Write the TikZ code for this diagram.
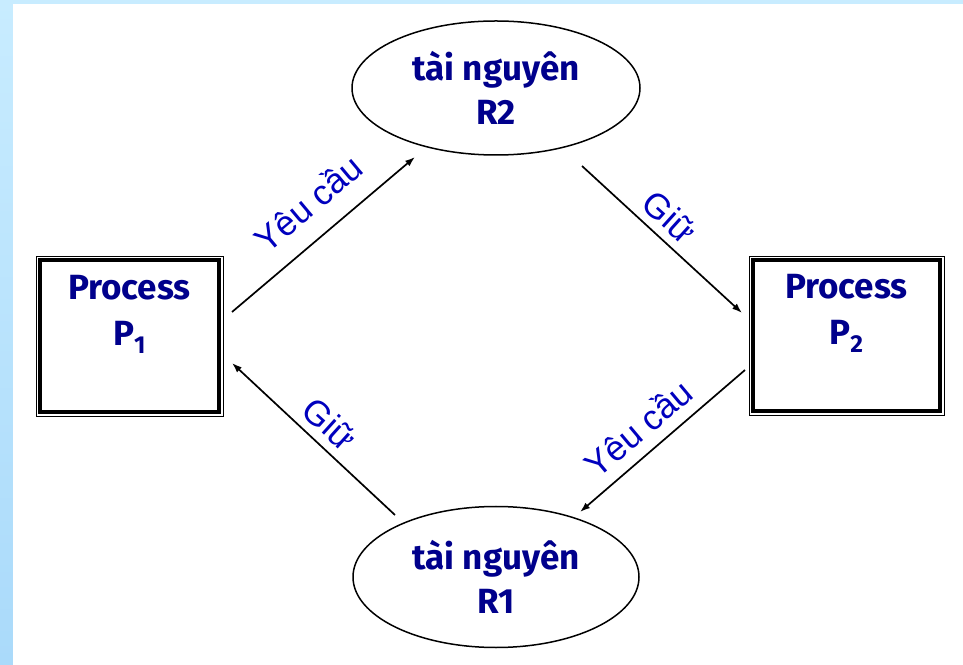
\documentclass[tikz,border=0pt]{standalone}
\usepackage{fontspec}
\setmainfont{Fira Sans}
\newfontfamily\labelfont{Liberation Sans}
\usetikzlibrary{arrows.meta,positioning,shapes.geometric}
\definecolor{nodeblue}{RGB}{0,0,140}
\definecolor{labelblue}{RGB}{0,0,190}
\definecolor{slidetop}{RGB}{200,236,255}
\definecolor{slidebottom}{RGB}{170,218,250}
\tikzset{
  procbox/.style={
    rectangle,
    draw=black,
    line width=4pt,
    fill=white,
    align=center,
    outer sep=0pt,
    text=nodeblue,
    font=\fontsize{35}{46}\selectfont\bfseries,
    text depth=52pt
  },
  resource/.style={
    ellipse,
    draw=black,
    line width=1.5pt,
    fill=white,
    align=center,
    outer sep=0pt,
    inner sep=0pt,
    text=nodeblue,
    font=\fontsize{35}{44}\selectfont\bfseries
  },
  edgelabel/.style={
    text=labelblue,
    font=\fontsize{35}{38}\selectfont\labelfont
  },
  arrow/.style={-{Latex[length=10pt,width=7pt]}, line width=1.7pt}
}
\begin{document}
\begin{tikzpicture}[x=1pt,y=1pt]
    \useasboundingbox (0,0) rectangle (963,664);
    \shade[top color=slidetop, bottom color=slidebottom] (0,0) rectangle (963,664);
    \fill[white] (13,-5) rectangle (970,660);

    \node[procbox, minimum width=179pt, minimum height=152pt] (P1) at (129.5,328) {Process\\P\textsubscript{1}};
    \node[procbox, minimum width=187pt, minimum height=151pt] (P2) at (846.5,328.5) {Process\\P\textsubscript{2}};
    \node[resource, minimum width=288pt, minimum height=134pt] (R2) at (496,576) {tài nguyên\\R2};
    \node[resource, minimum width=286pt, minimum height=141pt] (R1) at (496,87) {tài nguyên\\R1};

    % thin outer frame of the process boxes
    \foreach \p in {P1,P2}
      \draw[line width=0.6pt] ([shift={(-4,-4)}]\p.south west) rectangle ([shift={(4,4)}]\p.north east);

    \draw[arrow] ([shift={(13,24)}]P1.east) -- ([shift={(-81,-2)}]R2.south);
    \draw[arrow] ([shift={(86,-11)}]R2.south) -- ([shift={(-11,22.5)}]P2.west);
    \draw[arrow] ([shift={(-8,-34.5)}]P2.west) -- ([shift={(84,-5.5)}]R1.north);
    \draw[arrow] ([shift={(-101,-8.5)}]R1.north) -- ([shift={(13,-27)}]P1.east);

    \node[edgelabel, rotate=40] (reqA) at (308,461) {Yêu cầu};
    \node[edgelabel, rotate=-42] (holdA) at (670,447) {Giữ};
    \node[edgelabel, rotate=40] (reqB) at (638,236) {Yêu cầu};
    \node[edgelabel, rotate=-42] (holdB) at (330,240) {Giữ};
  \end{tikzpicture}
\end{document}
